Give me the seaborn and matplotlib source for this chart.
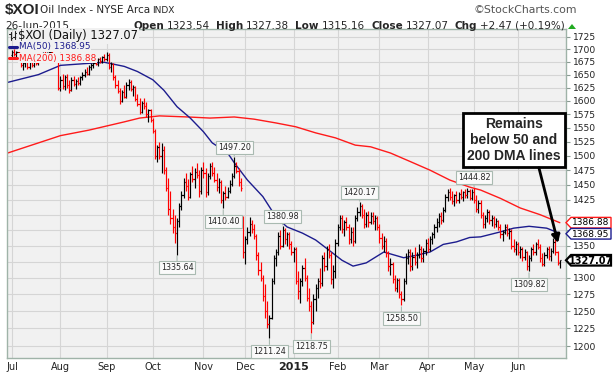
import numpy as np
import pandas as pd
import matplotlib
matplotlib.use("Agg")
import matplotlib.pyplot as plt
import seaborn as sns
from matplotlib.ticker import FixedLocator, NullLocator, FuncFormatter
from matplotlib.patches import Polygon
from matplotlib.lines import Line2D

# ---------------- data (daily OHLC) ----------------
jul = [(1688,1698,1684,1694),(1694,1700,1686,1690),(1690,1697,1684,1695),(1695,1698,1682,1686),
       (1686,1688,1664,1668),(1668,1675,1658,1672),(1672,1678,1664,1676),(1676,1679,1660,1664),
       (1664,1676,1660,1674),(1674,1678,1664,1668),(1668,1680,1664,1678),(1678,1680,1668,1672),
       (1672,1682,1668,1680),(1680,1690,1676,1686),(1686,1694,1682,1690),(1690,1696,1684,1688),
       (1688,1695,1683,1692),(1692,1698,1686,1694),(1694,1696,1684,1686),(1686,1690,1681,1684),
       (1684,1688,1681,1683),(1683,1685,1620,1625)]
aug = [(1625,1648,1618,1640),(1640,1652,1622,1628),(1628,1650,1620,1645),(1645,1652,1625,1630),
       (1630,1640,1615,1620),(1620,1645,1618,1640),(1640,1648,1628,1632),(1632,1642,1622,1638),
       (1638,1646,1630,1634),(1634,1648,1630,1645),(1645,1655,1640,1650),(1650,1660,1645,1656),
       (1656,1664,1650,1652),(1652,1668,1650,1665),(1665,1672,1658,1668),(1668,1676,1662,1672),
       (1672,1680,1668,1670),(1670,1682,1666,1680),(1680,1684,1672,1676),(1676,1686,1672,1684),
       (1684,1690,1676,1680)]
sep = [(1680,1694,1676,1688),(1688,1692,1660,1665),(1665,1675,1655,1670),(1670,1672,1640,1645),
       (1645,1650,1625,1630),(1630,1640,1615,1618),(1618,1625,1595,1600),(1600,1620,1598,1616),
       (1616,1630,1605,1608),(1608,1635,1605,1630),(1630,1642,1620,1636),(1636,1640,1618,1622),
       (1622,1630,1610,1626),(1626,1628,1600,1604),(1604,1612,1590,1595),(1595,1605,1575,1580),
       (1580,1600,1578,1596),(1596,1605,1585,1590),(1590,1598,1570,1575),(1575,1585,1560,1582),
       (1582,1585,1560,1565)]
oct_ = [(1565,1568,1540,1545),(1545,1548,1495,1500),(1500,1520,1490,1515),(1515,1525,1495,1500),
        (1500,1522,1470,1510),(1510,1518,1468,1475),(1475,1480,1440,1445),(1445,1462,1400,1410),
        (1410,1440,1385,1395),(1395,1410,1370,1380),(1380,1400,1355,1370),(1370,1395,1335.64,1390),
        (1390,1420,1380,1415),(1415,1440,1408,1432),(1432,1462,1428,1455),(1455,1470,1440,1448),
        (1448,1460,1425,1430),(1430,1472,1428,1468),(1468,1482,1455,1460),(1460,1478,1445,1472),
        (1472,1488,1462,1466),(1466,1475,1430,1440),(1440,1480,1435,1475)]
nov = [(1475,1490,1462,1470),(1470,1478,1430,1438),(1438,1470,1432,1465),(1465,1488,1460,1482),
       (1482,1490,1465,1470),(1470,1480,1455,1458),(1458,1470,1440,1446),(1446,1462,1436,1455),
       (1455,1458,1420,1425),(1425,1440,1410.40,1436),(1436,1448,1425,1430),(1430,1446,1428,1440),
       (1440,1458,1436,1452),(1452,1470,1448,1465),(1465,1497.20,1462,1482),(1482,1490,1470,1474),
       (1474,1478,1448,1455),(1455,1462,1440,1445),(1395,1398,1330,1340)]
dec = [(1340,1365,1322,1360),(1360,1380,1352,1372),(1372,1396,1365,1385),(1385,1392,1370,1376),
       (1376,1385,1360,1365),(1365,1368,1328,1335),(1335,1340,1305,1312),(1312,1325,1295,1300),
       (1300,1305,1265,1272),(1272,1290,1240,1250),(1250,1265,1225,1232),(1232,1245,1211.24,1240),
       (1240,1300,1238,1295),(1295,1335,1290,1330),(1330,1345,1318,1340),(1340,1372,1336,1366),
       (1366,1375,1345,1350),(1350,1380.98,1348,1375),(1375,1378,1352,1360),(1360,1372,1350,1368),
       (1368,1372,1345,1352),(1352,1358,1335,1340)]
jan = [(1340,1348,1325,1345),(1345,1348,1290,1295),(1295,1310,1268,1280),(1280,1300,1262,1295),
       (1295,1320,1288,1315),(1315,1330,1295,1300),(1300,1305,1265,1270),(1270,1285,1250,1258),
       (1258,1265,1218.75,1235),(1235,1275,1232,1268),(1268,1290,1250,1285),(1285,1300,1270,1295),
       (1295,1315,1285,1292),(1292,1335,1288,1330),(1330,1340,1310,1318),(1318,1350,1312,1345),
       (1345,1352,1330,1335),(1335,1340,1290,1298),(1298,1320,1285,1310),(1310,1360,1300,1355)]
feb = [(1355,1385,1350,1380),(1380,1400,1375,1395),(1395,1400,1370,1376),(1376,1392,1365,1388),
       (1388,1396,1375,1380),(1380,1385,1352,1360),(1360,1380,1355,1372),(1372,1380,1350,1358),
       (1358,1400,1355,1395),(1395,1412,1390,1405),(1405,1420.17,1398,1415),(1415,1418,1395,1400),
       (1400,1410,1378,1385),(1385,1405,1380,1400),(1400,1406,1380,1388),(1388,1405,1384,1398),
       (1398,1404,1385,1390),(1390,1400,1375,1395),(1395,1398,1375,1380)]
mar = [(1380,1385,1355,1362),(1362,1370,1345,1350),(1350,1365,1340,1358),(1358,1362,1332,1338),
       (1338,1342,1310,1318),(1318,1330,1305,1322),(1322,1325,1292,1298),(1298,1305,1280,1285),
       (1285,1300,1278,1296),(1296,1300,1270,1275),(1275,1280,1258.50,1268),(1268,1300,1265,1295),
       (1295,1338,1290,1330),(1330,1345,1322,1340),(1340,1345,1310,1318),(1318,1340,1312,1332),
       (1332,1348,1320,1325),(1325,1340,1315,1336),(1336,1352,1330,1345),(1345,1350,1325,1330),
       (1330,1346,1325,1342),(1342,1360,1335,1355)]
apr = [(1355,1362,1340,1345),(1345,1366,1342,1360),(1360,1372,1352,1368),(1368,1385,1362,1380),
       (1380,1395,1372,1388),(1388,1402,1380,1398),(1398,1405,1385,1392),(1392,1412,1388,1408),
       (1408,1435,1405,1430),(1430,1442,1422,1438),(1438,1444,1425,1430),(1430,1440,1418,1422),
       (1422,1435,1415,1432),(1432,1440,1420,1425),(1425,1438,1420,1434),(1434,1442,1426,1430),
       (1430,1440,1422,1438),(1438,1442,1428,1432),(1432,1444,1428,1440),(1440,1443,1425,1428),
       (1428,1442,1424,1438)]
may = [(1438,1444.82,1420,1425),(1425,1432,1405,1410),(1410,1425,1402,1420),(1420,1424,1395,1400),
       (1400,1405,1378,1385),(1385,1400,1378,1395),(1395,1410,1388,1405),(1405,1408,1385,1392),
       (1392,1400,1382,1395),(1395,1398,1378,1385),(1385,1395,1380,1390),(1390,1392,1375,1380),
       (1380,1385,1362,1368),(1368,1375,1358,1372),(1372,1385,1368,1380),(1380,1385,1365,1370),
       (1370,1378,1360,1374),(1374,1376,1345,1350),(1350,1360,1340,1345),(1345,1358,1335,1352)]
jun = [(1352,1356,1335,1340),(1340,1350,1330,1345),(1345,1348,1326,1332),(1332,1345,1328,1340),
       (1340,1342,1312,1318),(1318,1335,1309.82,1330),(1330,1348,1326,1344),(1344,1352,1335,1340),
       (1340,1356,1336,1352),(1352,1360,1344,1348),(1348,1352,1325,1330),(1330,1338,1318,1322),
       (1322,1340,1318,1336),(1336,1348,1330,1344),(1344,1350,1328,1334),(1334,1346,1326,1342),
       (1342,1362,1338,1356),(1356,1360,1335,1340),(1340,1342,1320,1324.60),
       (1323.54,1327.38,1315.16,1327.07)]

months = [jul, aug, sep, oct_, nov, dec, jan, feb, mar, apr, may, jun]
month_labels = ["Jul", "Aug", "Sep", "Oct", "Nov", "Dec", "2015", "Feb", "Mar", "Apr", "May", "Jun"]

# moving averages (trading-day index, value)
ma50_idx = [-2, 12, 22, 35, 42, 51, 57, 64, 69, 75, 81, 87, 91, 98, 101, 107, 114, 120, 125, 132,
            138, 144, 150, 155, 161, 169, 173, 178, 184, 190, 196, 202, 208, 213, 222, 228, 235,
            243, 248, 249]
ma50_val = [1635, 1650, 1668, 1672, 1674, 1666, 1656, 1640, 1620, 1589, 1568, 1543, 1523, 1505,
            1488, 1458, 1430, 1396, 1380, 1370, 1359, 1343, 1327, 1318, 1323, 1340, 1336, 1331,
            1335, 1340, 1352, 1356, 1363, 1364, 1372, 1378, 1381, 1378, 1371, 1368.95]
ma200_idx = [-2, 12, 22, 35, 51, 58, 67, 80, 90, 101, 110, 120, 129, 138, 147, 156, 163, 172,
             181, 190, 199, 208, 213, 222, 231, 240, 249]
ma200_val = [1505, 1523, 1536, 1546, 1561, 1568, 1572, 1570, 1568, 1570, 1566, 1559, 1552, 1541,
             1532, 1519, 1516, 1505, 1490, 1475, 1458, 1446, 1441, 1427, 1411, 1400, 1386.88]

peak_labels = [1497.20, 1380.98, 1420.17, 1444.82]
trough_labels = [1335.64, 1410.40, 1211.24, 1218.75, 1258.50, 1309.82]

y_ticks = list(range(1200, 1726, 25))

header_items = [("Open", True), ("1323.54", False), ("High", True), ("1327.38", False),
                ("Low", True), ("1315.16", False), ("Close", True), ("1327.07", False),
                ("Chg", True), ("+2.47 (+0.19%)", False)]

# ---------------- frame ----------------
rows = [r for m in months for r in m]
df = pd.DataFrame(rows, columns=["Open", "High", "Low", "Close"])
df["i"] = np.arange(len(df))
month_starts = np.cumsum([0] + [len(m) for m in months[:-1]])

sns.set_theme(style="whitegrid")
plt.rcParams["font.family"] = ["DejaVu Sans"]

W, H = 613, 375
fig = plt.figure(figsize=(W / 100, H / 100), dpi=100)
fig.patch.set_facecolor("white")
PL, PR, PT, PB = 7, 566, 29, 358
ax = fig.add_axes([PL / W, 1 - PB / H, (PR - PL) / W, (PB - PT) / H])
BG = "#f1f1f1"
ax.set_facecolor(BG)
ax.set_yscale("log")
ax.set_ylim(1183.3, 1740.7)
ax.set_xlim(-2.3, 251.8)

ax.yaxis.set_major_locator(FixedLocator(y_ticks))
ax.yaxis.set_minor_locator(NullLocator())
ax.yaxis.set_major_formatter(FuncFormatter(lambda v, p: f"{v:.0f}"))
ax.yaxis.tick_right()
ax.tick_params(axis="y", which="major", right=True, left=False, length=3, width=0.8,
               color="#8a9a92", labelsize=6.6, labelcolor="#222222", pad=2)
ax.xaxis.set_major_locator(FixedLocator(month_starts))
ax.xaxis.set_minor_locator(NullLocator())
ax.set_xticklabels(month_labels)
ax.tick_params(axis="x", length=0, labelsize=7, labelcolor="#222222", pad=3)
for lab in ax.get_xticklabels():
    if lab.get_text() == "2015":
        lab.set_fontweight("bold")
        lab.set_fontsize(8)
ax.grid(True, color="#d5d5d5", lw=0.8)
ax.set_axisbelow(True)
for s in ax.spines.values():
    s.set_color("#9fb3a8")
    s.set_linewidth(1.0)

# moving averages
sns.lineplot(x=ma200_idx, y=ma200_val, ax=ax, color="#ff1a1a", lw=1.0, zorder=2)
sns.lineplot(x=ma50_idx, y=ma50_val, ax=ax, color="#1c1c8e", lw=1.0, zorder=2)

# OHLC bars
prev = df["Close"].shift(1).fillna(df["Open"])
cols = np.where(df["Close"] < prev, "#ff0000", "#000000")
xi = df["i"].values
ax.vlines(xi, df["Low"], df["High"], colors=cols, lw=0.85, zorder=3)
ax.hlines(df["Open"], xi - 0.6, xi, colors=cols, lw=0.85, zorder=3)
ax.hlines(df["Close"], xi, xi + 0.6, colors=cols, lw=0.85, zorder=3)

# value callouts
box_kw = dict(boxstyle="square,pad=0.25", fc="#fafafa", ec="#a9bab1", lw=0.8)
for v in peak_labels:
    i = int(df.index[np.isclose(df["High"], v)][0])
    ax.annotate(f"{v:.2f}", xy=(i, v), xytext=(0, 7.2), textcoords="offset points",
                ha="center", va="center", fontsize=5.8, bbox=box_kw, zorder=5,
                arrowprops=dict(arrowstyle="-", color="#a9bab1", lw=0.8, shrinkA=0, shrinkB=1))
for v in trough_labels:
    i = int(df.index[np.isclose(df["Low"], v)][0])
    ax.annotate(f"{v:.2f}", xy=(i, v), xytext=(0, -9.5), textcoords="offset points",
                ha="center", va="center", fontsize=5.8, bbox=box_kw, zorder=5,
                arrowprops=dict(arrowstyle="-", color="#a9bab1", lw=0.8, shrinkA=0, shrinkB=1))

# commentary box and arrow
ax.text(228.2, 1528, "Remains\nbelow 50 and\n200 DMA lines", ha="center", va="center",
        fontsize=10, fontweight="bold", family=["Liberation Sans", "DejaVu Sans"],
        linespacing=1.15, zorder=6,
        bbox=dict(boxstyle="square,pad=0.3", fc="white", ec="black", lw=2))
ax.annotate("", xy=(248.2, 1354), xytext=(239.5, 1479), zorder=6,
            arrowprops=dict(arrowstyle="-|>", color="black", lw=2, mutation_scale=12,
                            shrinkA=0, shrinkB=0))

fig.canvas.draw()
renderer = fig.canvas.get_renderer()


def fx(x):
    return x / W


def fy(y):
    return 1 - y / H


# legend inside plot (with background boxes hiding bars beneath)
lbg = dict(boxstyle="square,pad=0.1", fc=BG, ec="none")
fig.text(fx(18), fy(36), "\\$XOI (Daily) 1327.07", fontsize=8.3, color="#111111",
         va="center", ha="left", bbox=lbg, zorder=7)
for xx, y0, y1, o, c in [(10.5, 32, 40, 34, 38), (14.5, 31, 39, 37, 33)]:
    fig.add_artist(Line2D([fx(xx), fx(xx)], [fy(y0), fy(y1)], color="#222", lw=0.8))
    fig.add_artist(Line2D([fx(xx - 1.5), fx(xx)], [fy(o), fy(o)], color="#222", lw=0.8))
    fig.add_artist(Line2D([fx(xx), fx(xx + 1.5)], [fy(c), fy(c)], color="#222", lw=0.8))
fig.text(fx(19), fy(47), "MA(50) 1368.95", fontsize=6.4, color="#1c1c8e",
         va="center", ha="left", bbox=lbg, zorder=7)
fig.add_artist(Line2D([fx(9), fx(17)], [fy(47), fy(47)], color="#1c1c8e", lw=2.2, zorder=8))
fig.text(fx(19), fy(58), "MA(200) 1386.88", fontsize=6.4, color="#ff1a1a",
         va="center", ha="left", bbox=lbg, zorder=7)
fig.add_artist(Line2D([fx(9), fx(17)], [fy(58), fy(58)], color="#ff1a1a", lw=2.2, zorder=8))

# right-edge value tags (they cover the tick labels behind them)
tag_px = []
for val, ec, bold in [(ma200_val[-1], "#ff1a1a", False), (ma50_val[-1], "#1c1c8e", False),
                      (df["Close"].iloc[-1], "#000000", True)]:
    ydisp = ax.transData.transform((0, val))[1]
    y_px = H - ydisp
    tag_px.append(y_px)
    h = 5.3
    pts = [(566, y_px), (571, y_px - h), (611, y_px - h), (611, y_px + h), (571, y_px + h)]
    poly = Polygon([(fx(a), fy(b)) for a, b in pts], closed=True, transform=fig.transFigure,
                   fc="white", ec=ec, lw=1.6 if bold else 1.0, zorder=9)
    fig.add_artist(poly)
    fig.text(fx(591), fy(y_px + 0.3), f"{val:.2f}", fontsize=7.0 if bold else 6.5,
             fontweight="bold" if bold else "normal", color="black",
             ha="center", va="center", zorder=10)
for t, lab in zip(y_ticks, ax.get_yticklabels()):
    ty = H - ax.transData.transform((0, t))[1]
    if any(abs(ty - tp) < 10.5 for tp in tag_px):
        lab.set_visible(False)

# header
fig.text(fx(5), fy(10), "\\$XOI", fontsize=11, fontweight="bold",
         family=["Liberation Sans", "DejaVu Sans"], va="center", ha="left")
fig.text(fx(40), fy(10), "Oil Index - NYSE Arca", fontsize=7.5, va="center", ha="left")
fig.text(fx(152), fy(10.5), "INDX", fontsize=6.5, va="center", ha="left")
fig.text(fx(577), fy(10), "\u00a9StockCharts.com", fontsize=7.8, color="#555555",
         va="center", ha="right")
fig.text(fx(5), fy(26), "26-Jun-2015", fontsize=7.5, va="center", ha="left")

# second header line laid out left to right, ending near x=565
hdr_texts = []
for t, b in header_items:
    hdr_texts.append(fig.text(0, fy(26), t, fontsize=7.5, fontweight="bold" if b else "normal",
                              va="center", ha="left"))
widths = [ht.get_window_extent(renderer).width for ht in hdr_texts]
gaps = [3 if b else 6 for _, b in header_items]
total = sum(widths) + sum(gaps[:-1])
xcur = 565 - total
for ht, w, g in zip(hdr_texts, widths, gaps):
    ht.set_x(fx(xcur))
    xcur += w + g
fig.add_artist(Polygon([(fx(568), fy(29)), (fx(576), fy(29)), (fx(572), fy(24))],
                       closed=True, transform=fig.transFigure, fc="#22aa22", ec="none"))

fig.savefig("out.png", dpi=100, facecolor="white")
